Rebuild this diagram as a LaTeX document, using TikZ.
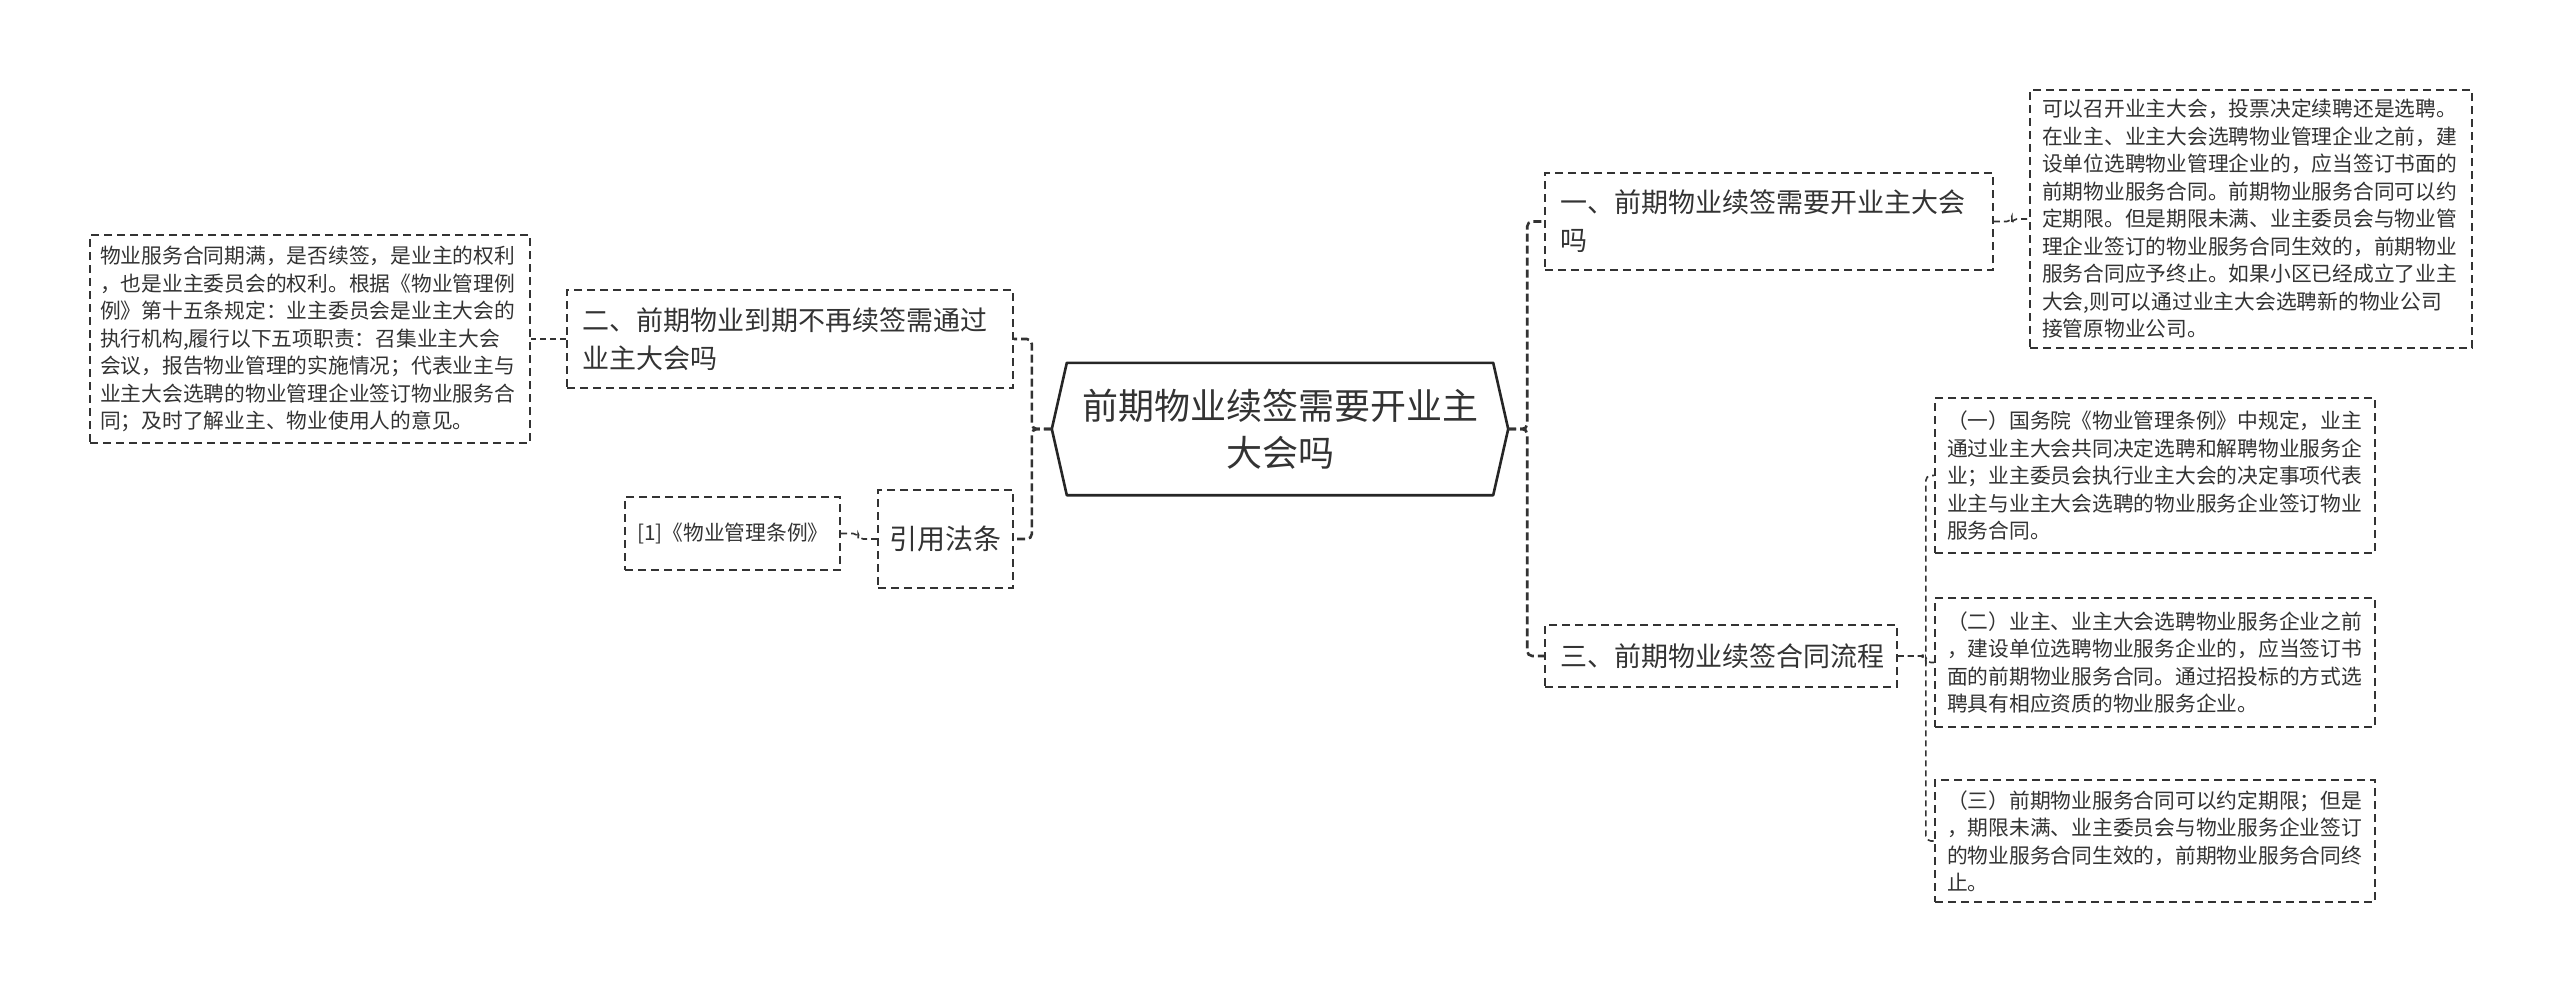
\documentclass[tikz,border=0pt]{standalone}
\usepackage{fontspec}
\setmainfont{Noto Sans CJK SC}
\usetikzlibrary{calc}
\definecolor{txt}{HTML}{333333}
\definecolor{ln}{HTML}{333333}
\begin{document}
\begin{tikzpicture}[x=1pt,y=-1pt,
  box/.style={draw=ln, line width=1.6pt, dash pattern=on 8pt off 5pt, text=txt, inner ysep=0pt, align=left},
  leaf/.style={box, font=\fontsize{20.75pt}{27.5pt}\selectfont},
  branch/.style={box, font=\fontsize{27pt}{38pt}\selectfont},
  conn/.style={draw=ln, line width=1.6pt, dash pattern=on 6pt off 4pt, rounded corners=5pt},
  trunk/.style={conn, line width=2.6pt, dash pattern=on 8pt off 4pt}]
\useasboundingbox (0,0) rectangle (2560,990);
\fill[white] (0,0) rectangle (2560,990);

% central node
\node[inner sep=0pt, minimum width=456pt, minimum height=132pt, align=center, text=txt,
      font=\fontsize{36pt}{47pt}\selectfont] (c) at (1280,429) {前期物业续签需要开业主\\大会吗};
\draw[line width=2.6pt, draw=black!85, line join=round] (c.west) -- ($(c.north west)+(15,0)$) -- ($(c.north east)+(-15,0)$) -- (c.east)
  -- ($(c.south east)+(-15,0)$) -- ($(c.south west)+(15,0)$) -- cycle;

% branches
\node[branch, text width=418pt, inner xsep=15pt, minimum height=97pt] (b1) at (1769,221.5) {一、前期物业续签需要开业主大会\\吗};
\node[branch, text width=322pt, inner xsep=15pt, minimum height=62pt] (b3) at (1721,656) {三、前期物业续签合同流程};
\node[branch, text width=416pt, inner xsep=15pt, minimum height=98pt] (b2) at (790,339) {二、前期物业到期不再续签需通过\\业主大会吗};
\node[box, align=center, inner xsep=10pt, minimum width=135pt, minimum height=98pt,
      font=\fontsize{28pt}{38pt}\selectfont] (cite) at (945.5,539) {引用法条};

% leaves
\node[leaf, text width=418pt, inner xsep=12pt, minimum height=258pt] (r1) at (2251,219) {可以召开业主大会，投票决定续聘还是选聘。\\在业主、业主大会选聘物业管理企业之前，建\\设单位选聘物业管理企业的，应当签订书面的\\前期物业服务合同。前期物业服务合同可以约\\定期限。但是期限未满、业主委员会与物业管\\理企业签订的物业服务合同生效的，前期物业\\服务合同应予终止。如果小区已经成立了业主\\大会,则可以通过业主大会选聘新的物业公司\\接管原物业公司。};
\node[leaf, text width=416pt, inner xsep=12pt, minimum height=155pt] (r3a) at (2155,475.5) {（一）国务院《物业管理条例》中规定，业主\\通过业主大会共同决定选聘和解聘物业服务企\\业；业主委员会执行业主大会的决定事项代表\\业主与业主大会选聘的物业服务企业签订物业\\服务合同。};
\node[leaf, text width=416pt, inner xsep=12pt, minimum height=129pt] (r3b) at (2155,662.5) {（二）业主、业主大会选聘物业服务企业之前\\，建设单位选聘物业服务企业的，应当签订书\\面的前期物业服务合同。通过招投标的方式选\\聘具有相应资质的物业服务企业。};
\node[leaf, text width=416pt, inner xsep=12pt, minimum height=122pt] (r3c) at (2155,841) {（三）前期物业服务合同可以约定期限；但是\\，期限未满、业主委员会与物业服务企业签订\\的物业服务合同生效的，前期物业服务合同终\\止。};
\node[leaf, text width=420pt, inner xsep=10pt, minimum height=208pt] (l1) at (310,339) {物业服务合同期满，是否续签，是业主的权利\\，也是业主委员会的权利。根据《物业管理例\\例》第十五条规定：业主委员会是业主大会的\\执行机构,履行以下五项职责：召集业主大会\\会议，报告物业管理的实施情况；代表业主与\\业主大会选聘的物业管理企业签订物业服务合\\同；及时了解业主、物业使用人的意见。};
\node[leaf, text width=191pt, inner xsep=12pt, minimum height=73pt] (lc) at (732.5,533.5) {[1]《物业管理条例》};

% connectors
\draw[trunk] (c.east) -- ++(19,0) |- (b1.west);
\draw[trunk] (c.east) -- ++(19,0) |- (b3.west);
\draw[trunk] (c.west) -- ++(-20,0) |- (b2.east);
\draw[trunk] (c.west) -- ++(-20,0) |- (cite.east);
\draw[conn] (b1.east) -- ++(18,0) |- (r1.west);
\draw[conn] (b3.east) -- ++(28,0) |- (r3a.west);
\draw[conn] (b3.east) -- ++(28,0) |- (r3b.west);
\draw[conn] (b3.east) -- ++(28,0) |- (r3c.west);
\draw[conn] (b2.west) -- (l1.east);
\draw[conn] (cite.west) -- ++(-19,0) |- (lc.east);
\end{tikzpicture}
\end{document}
